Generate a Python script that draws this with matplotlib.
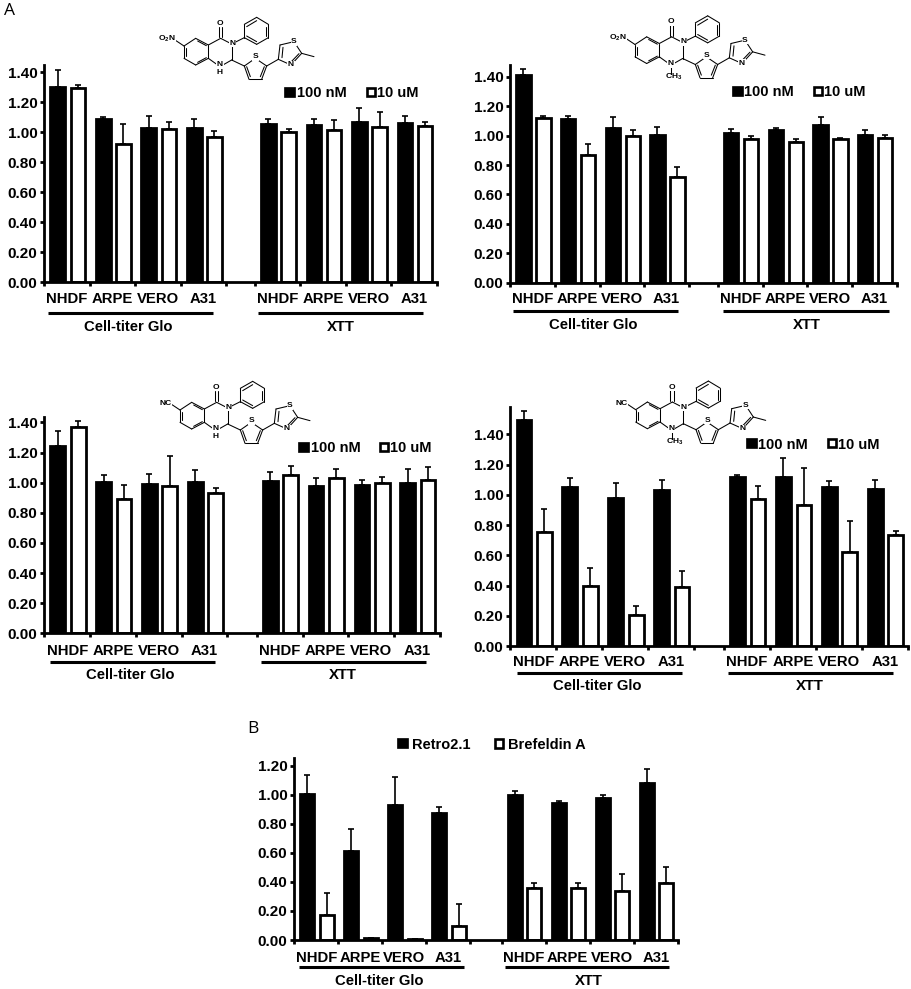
import numpy as np
import matplotlib
matplotlib.use('Agg')
import matplotlib.pyplot as plt
from matplotlib.patches import Rectangle

plt.rcParams['font.family'] = ['Liberation Sans', 'DejaVu Sans']
plt.rcParams['mathtext.default'] = 'regular'

W, H = 912, 989
cells = ['NHDF', 'ARPE', 'VERO', 'A31']

# values: Cell-titer Glo x4 then XTT x4
p1_black = [1.30, 1.09, 1.03, 1.03, 1.055, 1.05, 1.07, 1.06]
p1_black_err = [.115, .01, .08, .06, .035, .035, .09, .05]
p1_white = [1.295, .92, 1.02, .97, 1.00, 1.015, 1.035, 1.04]
p1_white_err = [.02, .135, .05, .035, .02, .065, .10, .025]

p2_black = [1.41, 1.11, 1.055, 1.005, 1.015, 1.04, 1.07, 1.005]
p2_black_err = [.045, .02, .07, .055, .03, .015, .055, .03]
p2_white = [1.12, .865, .995, .72, .975, .955, .98, .985]
p2_white_err = [.01, .08, .04, .065, .02, .02, .005, .02]

p3_black = [1.245, 1.005, .99, 1.005, 1.01, .975, .985, 1.00]
p3_black_err = [.10, .045, .07, .08, .06, .055, .03, .09]
p3_white = [1.37, .89, .975, .93, 1.05, 1.03, .995, 1.02]
p3_white_err = [.04, .095, .205, .035, .06, .06, .04, .085]

p4_black = [1.495, 1.055, .98, 1.035, 1.115, 1.12, 1.05, 1.04]
p4_black_err = [.06, .055, .095, .065, .015, .125, .04, .055]
p4_white = [.755, .40, .205, .39, .97, .935, .625, .735]
p4_white_err = [.15, .115, .06, .105, .09, .245, .20, .025]

p5_black = [1.005, .61, .93, .875, 1.00, .94, .975, 1.08]
p5_black_err = [.13, .155, .195, .04, .025, .015, .02, .095]
p5_white = [.175, .015, .005, .095, .355, .355, .34, .39]
p5_white_err = [.15, 0, 0, .155, .035, .04, .115, .11]

fig = plt.figure(figsize=(W / 100, H / 100), dpi=100)

# overlay in pixel coordinates for the annotations around the plots
ov = fig.add_axes([0, 0, 1, 1], zorder=5)
ov.set_xlim(0, W)
ov.set_ylim(H, 0)
ov.axis('off')

FS = 10.7
LW = 2.0


def panel(black, black_err, white, white_err, left, right, y0, top, ymax, group, gap, yticks, pad):
    ax = fig.add_axes([left / W, 1 - y0 / H, (right - left) / W, (y0 - top) / H])
    starts = np.r_[np.arange(4), np.arange(4) + 4 + gap]
    for vals, errs, off, col in [(black, black_err, .295, 'black'), (white, white_err, .74, 'white')]:
        x = starts + off
        ax.errorbar(x, vals, yerr=[np.zeros(8), errs], fmt='none', ecolor='black',
                    elinewidth=1.2, capsize=1.9, capthick=1.2, zorder=1)
        ax.bar(x, vals, width=.32, color=col, edgecolor='black', linewidth=LW, zorder=2)
    ax.set_xlim(0, 8 + gap)
    ax.set_ylim(0, ymax)
    ax.set_yticks(yticks)
    ax.set_yticklabels(['%.2f' % v for v in yticks], fontsize=FS + .3, fontweight='bold')
    ax.set_xticks(np.r_[np.arange(5), np.arange(5) + 4 + gap])
    ax.set_xticklabels([])
    ax.set_xticks(starts + .5, minor=True)
    ax.set_xticklabels(cells * 2, minor=True, fontsize=FS, fontweight='bold', va='baseline')
    ax.tick_params(axis='x', which='minor', length=0, pad=pad)
    ax.tick_params(axis='both', which='major', length=3, width=LW, pad=2)
    for s in ['top', 'right']:
        ax.spines[s].set_visible(False)
    for s in ['left', 'bottom']:
        ax.spines[s].set_linewidth(LW)
    ax.patch.set_alpha(0)
    return ax


def group_labels(y_line, y_text, x1, x2, c1, c2):
    for xs, c, t in [(x1, c1, 'Cell-titer Glo'), (x2, c2, 'XTT')]:
        ov.plot(xs, [y_line, y_line], color='black', lw=2.2, solid_capstyle='butt')
        ov.text(c, y_text + 5.4, t, ha='center', va='baseline', fontsize=FS, fontweight='bold')


def legend_row(y, x_black, x_btext, x_white, x_wtext, lab1, lab2):
    ov.add_patch(Rectangle((x_black, y - 5), 11, 10, fc='black', ec='black', lw=.5))
    ov.add_patch(Rectangle((x_white + 1, y - 4), 8.2, 8.2, fc='white', ec='black', lw=1.9))
    ov.text(x_btext, y + 5.3, lab1, ha='left', va='baseline', fontsize=10.5, fontweight='bold')
    ov.text(x_wtext, y + 5.3, lab2, ha='left', va='baseline', fontsize=10.5, fontweight='bold')


# skeleton points in 1/3 px from the origin of each drawing
bonds = [((102, 108), (137, 85)), ((137, 85), (175, 105)), ((175, 105), (175, 145)),
         ((175, 145), (137, 165)), ((137, 165), (102, 145)), ((102, 145), (102, 108)),
         ((175, 105), (212, 85)), ((212, 85), (245, 102)), ((245, 102), (245, 150)),
         ((245, 150), (210, 170)), ((210, 170), (175, 145)), ((245, 102), (283, 83)),
         ((283, 83), (283, 43)), ((283, 43), (320, 22)), ((320, 22), (355, 43)),
         ((355, 43), (355, 83)), ((355, 83), (320, 103)), ((320, 103), (283, 83)),
         ((245, 150), (283, 168)), ((283, 168), (316, 145)), ((316, 145), (350, 168)),
         ((350, 168), (335, 208)), ((335, 208), (297, 208)), ((297, 208), (283, 168)),
         ((350, 168), (385, 148)), ((385, 148), (390, 105)), ((390, 105), (432, 95)),
         ((432, 95), (455, 130)), ((455, 130), (423, 165)), ((423, 165), (385, 148)),
         ((455, 130), (492, 140)), ((102, 108), (78, 92))]
doubles = [((143, 93), (169, 107)), ((169, 143), (143, 157)), ((109, 139), (109, 114)),
           ((206, 82), (206, 50)), ((216, 82), (216, 50)),
           ((290, 50), (320, 32)), ((348, 50), (348, 78)), ((320, 95), (290, 78)),
           ((343, 170), (331, 200)), ((301, 200), (290, 170)),
           ((396, 143), (399, 112)), ((447, 131), (424, 155))]
atoms = [((210, 40), 'O'), ((247, 100), 'N'), ((210, 165), 'N'), ((316, 140), 'S'),
         ((432, 95), 'S'), ((423, 165), 'N')]


def molecule(ox, oy, head, methyl):
    for (a, b) in bonds + doubles:
        ov.plot([ox + a[0] / 3, ox + b[0] / 3], [oy + a[1] / 3, oy + b[1] / 3],
                color='black', lw=.75, zorder=3, solid_capstyle='round')
    for p, t in atoms:
        ov.text(ox + p[0] / 3, oy + p[1] / 3, t, ha='center', va='center', fontsize=6,
                fontweight='bold', zorder=4,
                bbox=dict(fc='white', ec='none', pad=.4))
    ov.text(ox + 78 / 3, oy + 88 / 3, head, ha='right', va='center', fontsize=6,
            fontweight='bold', zorder=4, bbox=dict(fc='white', ec='none', pad=.3))
    if methyl:
        ov.plot([ox + 70, ox + 70], [oy + 58, oy + 65], color='black', lw=.75, zorder=3)
        ov.text(ox + 64, oy + 68.5, 'CH$_3$', ha='left', va='center', fontsize=6,
                fontweight='bold', zorder=4)
    else:
        ov.text(ox + 70, oy + 62, 'H', ha='center', va='center', fontsize=6,
                fontweight='bold', zorder=4)


t6 = [0, .2, .4, .6, .8, 1.0, 1.2, 1.4]
t5 = [0, .2, .4, .6, .8, 1.0, 1.2]

panel(p1_black, p1_black_err, p1_white, p1_white_err, 44.3, 437, 282.3, 65, 1.448, 45, .63, t6, 15)
group_labels(313.3, 325.7, [47.7, 212.7], [258.3, 423.3], 128.3, 340.7)
legend_row(91.7, 284, 296.7, 365.7, 376.7, '100 nM', '10 uM')
molecule(150, 10, 'O$_2$N', False)

panel(p2_black, p2_black_err, p2_white, p2_white_err, 510.3, 896.7, 282.7, 65, 1.48, 45, .65, t6, 14.7)
group_labels(311, 323.3, [513.3, 678.3], [723.3, 888.7], 593.3, 806.7)
legend_row(91, 731.7, 744.3, 812.7, 823.7, '100 nM', '10 uM')
molecule(601, 8.5, 'O$_2$N', True)

panel(p3_black, p3_black_err, p3_white, p3_white_err, 44.3, 440, 633.3, 416.7, 1.438, 45.7, .64, t6, 15.4)
group_labels(661.7, 674, [50, 215], [260.7, 425.7], 130.7, 342.7)
legend_row(446.7, 297.7, 310.7, 379, 390, '100 nM', '10 uM')
molecule(146, 374, 'NC', False)

panel(p4_black, p4_black_err, p4_white, p4_white_err, 510.3, 907.7, 646, 406.7, 1.583, 46, .65, t6, 14.7)
group_labels(673.3, 685, [517, 682], [727.7, 892.7], 597.7, 810.3)
legend_row(443.3, 746, 757.7, 827, 838.3, '100 nM', '10 uM')
molecule(601.7, 373.7, 'NC', True)

panel(p5_black, p5_black_err, p5_white, p5_white_err, 294.3, 677.7, 940, 757.7, 1.255, 44, .72, t5, 15.9)
group_labels(966.7, 979.3, [299, 464], [505, 669.3], 379, 588.7)
legend_row(743.3, 397.3, 412.3, 494, 508.3, 'Retro2.1', 'Brefeldin A')

ov.text(10, 11, 'A', ha='center', va='center', fontsize=12.5, family=['Open Sans', 'DejaVu Sans'])
ov.text(252.5, 729, 'B', ha='center', va='center', fontsize=12.5, family=['Open Sans', 'DejaVu Sans'])

fig.savefig('out.png', dpi=100)
